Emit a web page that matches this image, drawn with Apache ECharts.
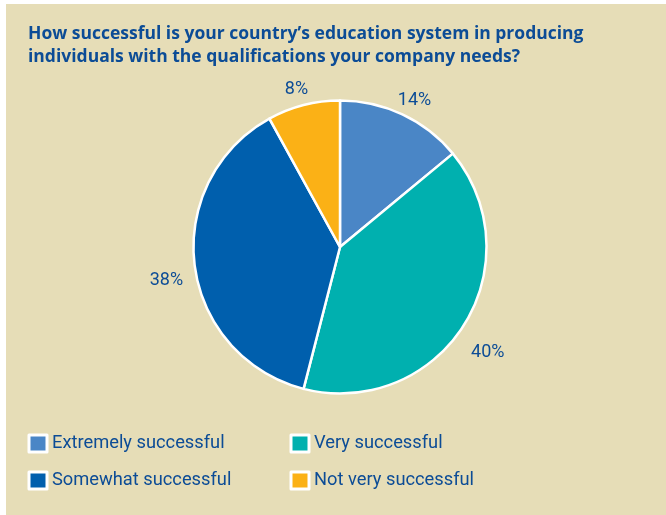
<!DOCTYPE html>
<html>
<head>
<meta charset="utf-8">
<script src="https://cdn.jsdelivr.net/npm/echarts@6/dist/echarts.min.js"></script>
<style>
  html, body { margin: 0; padding: 0; background: #ffffff; }
  #panel { position: absolute; left: 6px; top: 4px; width: 660px; height: 511px; background: #e6ddb7; }
  #chart { width: 660px; height: 511px; }
</style>
</head>
<body>
<div id="panel"><div id="chart"></div></div>
<script>
// Survey answers and their shares (percent)
const categories = ['Extremely successful', 'Very successful', 'Somewhat successful', 'Not very successful'];
const shares = [14, 40, 38, 8];
const colors = ['#4a86c6', '#00b0af', '#005fad', '#fbb116'];
const titleLines = [
  'How successful is your country\u2019s education system in producing',
  'individuals with the qualifications your company needs?'
];

const textColor = '#0c4c96';
const fontFamily = 'Roboto, "Open Sans", sans-serif';

const chart = echarts.init(document.getElementById('chart'));

const pieData = categories.map((name, i) => ({ name: name, value: shares[i] }));

const legendBase = {
  orient: 'vertical',
  top: 424.5,
  itemWidth: 18,
  itemHeight: 17,
  itemGap: 17,
  icon: 'rect',
  selectedMode: false,
  itemStyle: { borderColor: '#ffffff', borderWidth: 3 },
  textStyle: { color: textColor, fontSize: 18.3, lineHeight: 17, fontFamily: fontFamily }
};

chart.setOption({
  backgroundColor: 'transparent',
  color: colors,
  title: {
    text: titleLines.join('\n'),
    left: 17,
    top: 14,
    textStyle: {
      color: textColor,
      fontSize: 17.5,
      fontWeight: 'bold',
      fontFamily: '"Open Sans", Roboto, sans-serif',
      lineHeight: 22.5
    }
  },
  legend: [
    Object.assign({}, legendBase, { left: 16.5, data: [categories[0], categories[2]] }),
    Object.assign({}, legendBase, { left: 278.5, data: [categories[1], categories[3]] })
  ],
  series: [
    {
      // the pie itself
      type: 'pie',
      center: [334, 243],
      radius: 146.5,
      startAngle: 90,
      clockwise: true,
      animation: false,
      itemStyle: { borderColor: '#ffffff', borderWidth: 2.5 },
      label: { show: false },
      labelLine: { show: false },
      emphasis: { disabled: true },
      data: pieData
    },
    {
      // transparent outer ring that carries the percentage labels, centred around the pie
      type: 'pie',
      center: [334, 243],
      radius: [147, 197],
      startAngle: 90,
      clockwise: true,
      animation: false,
      silent: true,
      itemStyle: { color: 'rgba(0,0,0,0)', borderWidth: 0 },
      label: {
        show: true,
        position: 'inside',
        formatter: '{c}%',
        color: textColor,
        fontSize: 18,
        fontFamily: fontFamily,
        offset: [0, 12]
      },
      labelLine: { show: false },
      emphasis: { disabled: true },
      data: pieData
    }
  ]
});
</script>
</body>
</html>
